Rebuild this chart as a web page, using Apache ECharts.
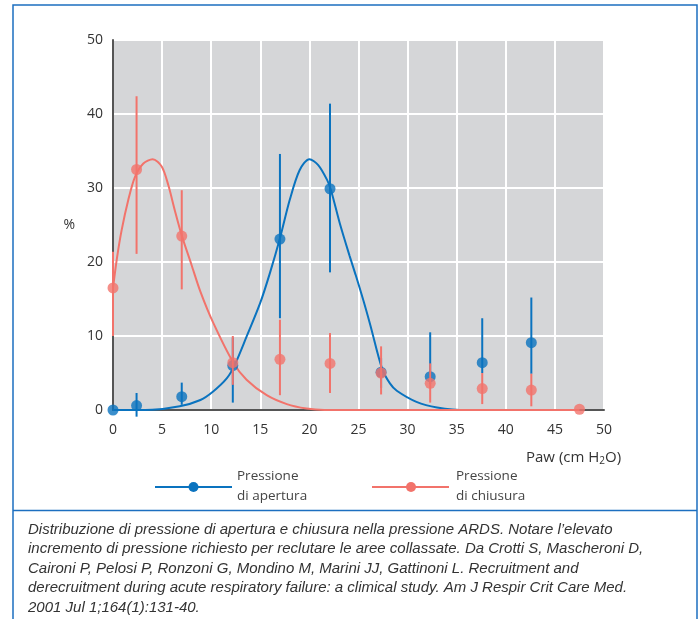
<!DOCTYPE html>
<html>
<head>
<meta charset="utf-8">
<style>
  html, body { margin: 0; padding: 0; background: #fff; }
  #chart { width: 700px; height: 619px; }
</style>
<script src="https://cdn.jsdelivr.net/npm/echarts@6/dist/echarts.min.js"></script>
</head>
<body>
<div id="chart"></div>
<script>
// pressure bins (cm H2O) where the means were plotted
const apX = [0, 2.4, 7, 12.2, 17, 22.1, 27.3, 32.3, 37.6, 42.6]
const apMean = [0, 0.6, 1.8, 6.0, 23.1, 29.9, 5.1, 4.5, 6.4, 9.1]
const apLow = [0, -0.9, 0.7, 1.0, 12.4, 18.6, 3.0, 3.5, 5.0, 4.9]
const apHigh = [0, 2.3, 3.7, 9.8, 34.6, 41.4, 7.0, 10.5, 12.4, 15.2]

const chX = [0, 2.4, 7, 12.2, 17, 22.1, 27.3, 32.3, 37.6, 42.6, 47.5]
const chMean = [16.5, 32.5, 23.5, 6.4, 6.85, 6.3, 5.0, 3.6, 2.9, 2.7, 0.1]
const chLow = [10.0, 21.1, 16.3, 3.4, 2.0, 2.3, 2.1, 1.0, 0.8, 0.5, 0.1]
const chHigh = [21.4, 42.4, 29.7, 10.0, 12.2, 10.4, 8.6, 6.3, 5.0, 4.9, 0.1]

// fitted curves
const apCurveX = [0, 4, 6.8, 8.9, 10.2, 11.6, 12.4, 13.6, 15, 16, 17, 18, 19, 20, 20.9, 21.8, 22.2, 23.1, 24.1, 24.7, 25.5, 26.2, 27.4, 28.2, 28.9, 30.9, 33, 36, 47.5]
const apCurveY = [0, 0.05, 0.5, 1.35, 2.5, 4.3, 6.1, 9.9, 14.5, 18.6, 23.2, 28.4, 32.4, 33.9, 33.1, 31.1, 29.7, 25.2, 20.8, 18.3, 14.8, 11.5, 5.6, 3.6, 2.6, 1.1, 0.35, 0, 0]
const chCurveX = [0, 0.4, 0.88, 1.56, 2.24, 3.09, 4.04, 4.96, 5.63, 6.31, 7.0, 8.0, 8.9, 10.2, 12.25, 13.6, 15.65, 17.7, 19.7, 21.5, 47.5]
const chCurveY = [16.5, 20.5, 24.3, 28.4, 31.5, 33.3, 33.9, 32.9, 30.4, 26.9, 23.6, 19.6, 16.0, 11.8, 6.4, 4.1, 2.0, 0.8, 0.2, 0, 0]

const xTicks = [0, 5, 10, 15, 20, 25, 30, 35, 40, 45, 50]
const yTicks = [0, 10, 20, 30, 40, 50]

const captionLines = [
  'Distribuzione di pressione di apertura e chiusura nella pressione ARDS. Notare l’elevato',
  'incremento di pressione richiesto per reclutare le aree collassate. Da Crotti S, Mascheroni D,',
  'Caironi P, Pelosi P, Ronzoni G, Mondino M, Marini JJ, Gattinoni L. Recruitment and',
  'derecruitment during acute respiratory failure: a climical study. Am J Respir Crit Care Med.',
  '2001 Jul 1;164(1):131-40.'
]

const BLUE = '#0a73bf'
const RED = '#f2736b'
const FONT = '"Open Sans", "Noto Sans", sans-serif'

const chart = echarts.init(document.getElementById('chart'))

function zip(a, b) {
  return a.map((v, i) => [v, b[i]])
}

function errorBars(xs, lows, highs, color, z) {
  return {
    type: 'custom',
    clip: false,
    z: z,
    silent: true,
    data: xs.map((x, i) => [x, lows[i], highs[i]]),
    renderItem: (params, api) => {
      const p1 = api.coord([api.value(0), api.value(1)])
      const p2 = api.coord([api.value(0), api.value(2)])
      return {
        type: 'line',
        shape: { x1: p1[0], y1: p1[1], x2: p2[0], y2: p2[1] },
        style: { stroke: color, lineWidth: 2 }
      }
    }
  }
}

const graphics = [
  // outer blue frame + caption separator
  { type: 'rect', shape: { x: 13, y: 5, width: 684, height: 700 }, style: { fill: 'none', stroke: '#1c6fc0', lineWidth: 1.5 } },
  { type: 'line', shape: { x1: 13, y1: 510.5, x2: 697, y2: 510.5 }, style: { stroke: '#1c6fc0', lineWidth: 1.5 } },
  // x axis title
  {
    type: 'text', left: 526, top: 450,
    style: {
      text: 'Paw (cm H{sub|2}O)', fill: '#333', font: '15px ' + FONT,
      rich: { sub: { fontSize: 10, fill: '#333', fontFamily: FONT, verticalAlign: 'bottom', padding: [8, 0, 0, 0] } }
    }
  },
  // legend
  { type: 'line', shape: { x1: 155, y1: 487, x2: 232, y2: 487 }, style: { stroke: BLUE, lineWidth: 2 } },
  { type: 'circle', shape: { cx: 193.5, cy: 487, r: 5 }, style: { fill: BLUE } },
  { type: 'text', left: 237, top: 466, style: { text: 'Pressione\ndi apertura', fill: '#444', font: '13.5px ' + FONT, lineHeight: 20 } },
  { type: 'line', shape: { x1: 372, y1: 487, x2: 449, y2: 487 }, style: { stroke: RED, lineWidth: 2 } },
  { type: 'circle', shape: { cx: 411, cy: 487, r: 5 }, style: { fill: RED } },
  { type: 'text', left: 456, top: 466, style: { text: 'Pressione\ndi chiusura', fill: '#444', font: '13.5px ' + FONT, lineHeight: 20 } }
]

captionLines.forEach((line, i) => {
  graphics.push({
    type: 'text', left: 28, top: 522 + i * 19.5,
    style: { text: line, fill: '#333', font: 'italic 15px "Liberation Sans", sans-serif' }
  })
})

const option = {
  animation: false,
  backgroundColor: '#fff',
  grid: {
    left: 113, right: 96, top: 40, bottom: 209,
    show: true, backgroundColor: '#d5d6d8', borderColor: '#444', borderWidth: 1
  },
  xAxis: {
    type: 'value', min: xTicks[0], max: xTicks[xTicks.length - 1], interval: 5,
    axisLine: { show: true, onZero: false, lineStyle: { color: '#555', width: 2 } },
    axisTick: { show: false },
    axisLabel: { color: '#333', fontSize: 14, fontFamily: FONT, margin: 13 },
    splitLine: { show: true, lineStyle: { color: '#fff', width: 2 } }
  },
  yAxis: {
    type: 'value', min: yTicks[0], max: yTicks[yTicks.length - 1], interval: 10,
    name: '%', nameLocation: 'middle', nameRotate: 0, nameGap: 38,
    nameTextStyle: { color: '#333', fontSize: 14, fontFamily: FONT },
    axisLine: { show: true, lineStyle: { color: '#555', width: 2 } },
    axisTick: { show: false },
    axisLabel: { color: '#333', fontSize: 14, fontFamily: FONT, margin: 10 },
    splitLine: { show: true, lineStyle: { color: '#fff', width: 2 } }
  },
  series: [
    {
      type: 'line', data: zip(apCurveX, apCurveY), smooth: 0.3, showSymbol: false,
      lineStyle: { color: BLUE, width: 2 }, z: 3, clip: false
    },
    {
      type: 'line', data: zip(chCurveX, chCurveY), smooth: 0.3, showSymbol: false,
      lineStyle: { color: RED, width: 2 }, z: 3, clip: false
    },
    errorBars(apX, apLow, apHigh, BLUE, 4),
    {
      type: 'scatter', data: zip(apX, apMean), symbolSize: 11, clip: false, z: 5,
      itemStyle: { color: BLUE }
    },
    errorBars(chX, chLow, chHigh, RED, 6),
    {
      type: 'scatter', data: zip(chX, chMean), symbolSize: 11, clip: false, z: 7,
      itemStyle: { color: RED }
    }
  ],
  graphic: graphics
}

chart.setOption(option)
</script>
</body>
</html>
